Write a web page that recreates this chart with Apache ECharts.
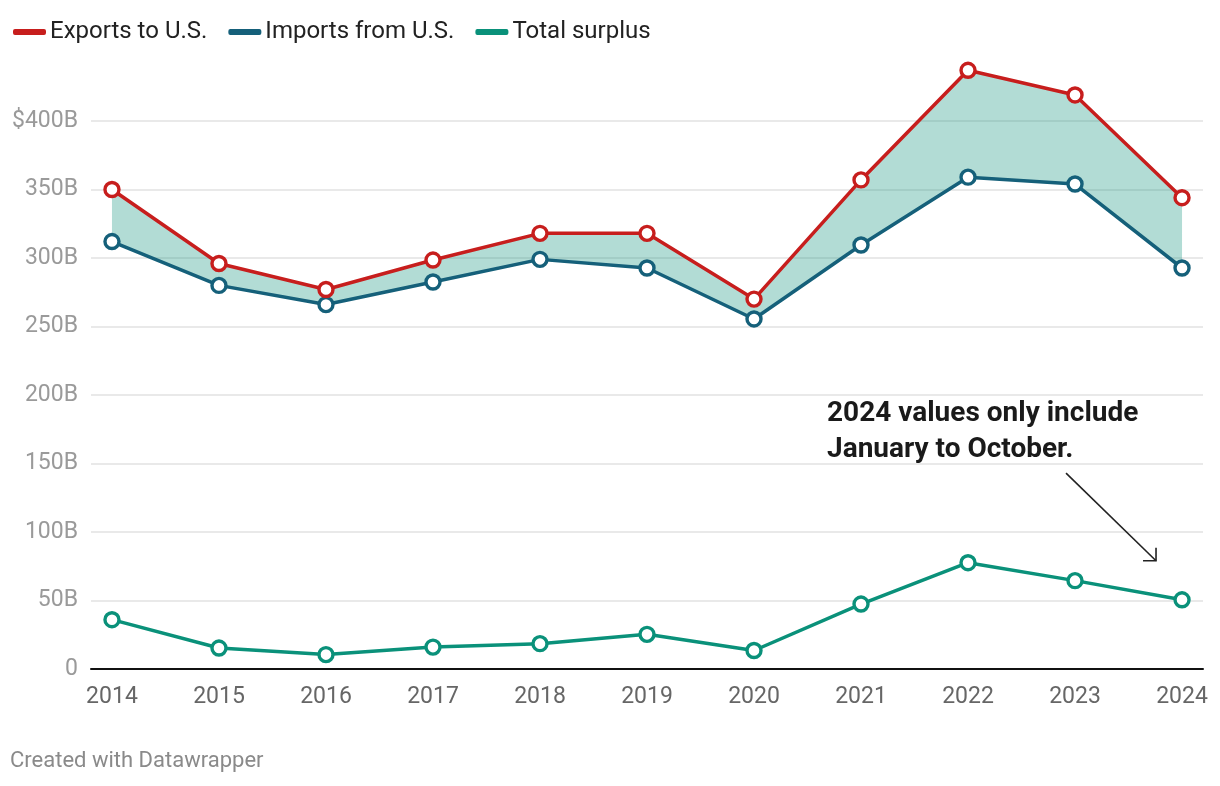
<!DOCTYPE html>
<html>
<head>
<meta charset="utf-8">
<script src="https://cdn.jsdelivr.net/npm/echarts@6/dist/echarts.min.js"></script>
<style>
html,body{margin:0;padding:0;background:#fff;}
#chart{width:1220px;height:786px;}
</style>
</head>
<body>
<div id="chart"></div>
<script>
const years = [2014, 2015, 2016, 2017, 2018, 2019, 2020, 2021, 2022, 2023, 2024];
const exportsToUS = [350, 296, 277, 298.5, 318, 318, 270, 357, 437, 419, 344];
const importsFromUS = [312, 280, 266, 282.5, 299, 292.7, 255.5, 309.5, 359, 354, 292.7];
const totalSurplus = [36, 15.3, 10.5, 16, 18.5, 25.3, 13.5, 47.4, 77.6, 64.5, 50.5];
const yTicks = [0, 50, 100, 150, 200, 250, 300, 350, 400];

const RED = '#c71e1d', BLUE = '#15607a', TEAL = '#0a917a';
const FONT = 'Roboto';

const pairs = arr => arr.map((v, i) => [years[i], v]);
const bandData = years.map((y, i) => [y, exportsToUS[i], importsFromUS[i]]);

const chart = echarts.init(document.getElementById('chart'));
const sym = (c) => ({
  symbol: 'circle', symbolSize: 14,
  itemStyle: { color: '#fff', borderColor: c, borderWidth: 3.4 },
  lineStyle: { color: c, width: 3.5 }
});

chart.setOption({
  animation: false,
  textStyle: { fontFamily: FONT },
  legend: {
    left: 8, top: 15, itemWidth: 31, itemHeight: 4, itemGap: 21,
    icon: 'roundRect',
    textStyle: { fontSize: 24, color: '#222', fontFamily: FONT },
    data: [
      { name: 'Exports to U.S.', itemStyle: { color: RED } },
      { name: 'Imports from U.S.', itemStyle: { color: BLUE } },
      { name: 'Total surplus', itemStyle: { color: TEAL } }
    ]
  },
  grid: { left: 91, right: 17, top: 52.5, bottom: 117, containLabel: false },
  xAxis: {
    type: 'value', min: 2013.804, max: 2024.196,
    axisLine: { show: true, onZero: false, lineStyle: { color: '#111', width: 2 } },
    axisTick: { show: false },
    splitLine: { show: false },
    axisLabel: {
      customValues: years, fontSize: 23, color: '#666', margin: 17,
      formatter: v => String(v), fontFamily: FONT
    }
  },
  yAxis: {
    type: 'value', min: 0, max: 450, interval: 50,
    axisLine: { show: false }, axisTick: { show: false },
    splitLine: { show: true, showMaxLine: false, showMinLine: false, lineStyle: { color: '#e2e2e2', width: 1.5 } },
    axisLabel: {
      showMaxLabel: false, fontSize: 23, color: '#9a9a9a', margin: 13, fontFamily: FONT,
      formatter: v => yTicks.indexOf(v) < 0 ? '' : (v === 0 ? '0' : (v === 400 ? '$' + v + 'B' : v + 'B'))
    }
  },
  series: [
    {
      name: 'band', type: 'custom', silent: true, z: 1,
      data: bandData,
      encode: { x: 0, y: [1, 2] },
      renderItem: function (params, api) {
        if (params.dataIndex !== 0) return null;
        const top = bandData.map(d => api.coord([d[0], d[1]]));
        const bot = bandData.slice().reverse().map(d => api.coord([d[0], d[2]]));
        return {
          type: 'polygon',
          shape: { points: top.concat(bot) },
          style: { fill: 'rgba(0,140,115,0.30)' }
        };
      }
    },
    Object.assign({ name: 'Imports from U.S.', type: 'line', data: pairs(importsFromUS), z: 3 }, sym(BLUE)),
    Object.assign({ name: 'Exports to U.S.', type: 'line', data: pairs(exportsToUS), z: 4 }, sym(RED)),
    Object.assign({ name: 'Total surplus', type: 'line', data: pairs(totalSurplus), z: 3 }, sym(TEAL))
  ]
});

// annotation arrow positioned in data space
const p0 = chart.convertToPixel({ gridIndex: 0 }, [2022.916, 143]);
const p1 = chart.convertToPixel({ gridIndex: 0 }, [2023.757, 79]);
chart.setOption({
  graphic: [
    {
      type: 'text', left: 827, top: 396,
      style: {
        text: '2024 values only include\nJanuary to October.',
        font: 'bold 28px Roboto', fill: '#1a1a1a', lineHeight: 36
      }
    },
    {
      type: 'line', silent: true,
      shape: { x1: p0[0], y1: p0[1], x2: p1[0], y2: p1[1] },
      style: { stroke: '#222', lineWidth: 1.6 }
    },
    {
      type: 'polyline', silent: true,
      shape: { points: [[p1[0] - 13, p1[1]], [p1[0], p1[1]], [p1[0], p1[1] - 13]] },
      style: { stroke: '#222', lineWidth: 1.6, fill: null }
    },
    {
      type: 'text', left: 10, top: 750,
      style: { text: 'Created with Datawrapper', font: '22px Roboto', fill: '#8a8a8a' }
    }
  ]
});
</script>
</body>
</html>
